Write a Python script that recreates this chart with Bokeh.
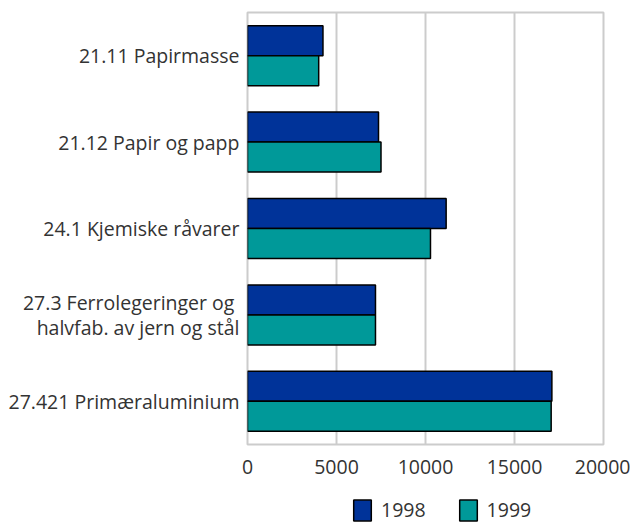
from bokeh.plotting import figure
from bokeh.layouts import column
from bokeh.models import FactorRange, Range1d, FixedTicker, Legend, LegendItem, ColumnDataSource
from bokeh.transform import dodge
from bokeh.embed import file_html
from bokeh.resources import INLINE

categories = [
    "21.11 Papirmasse",
    "21.12 Papir og papp",
    "24.1 Kjemiske råvarer",
    "27.3 Ferrolegeringer og \nhalvfab. av jern og stål",
    "27.421 Primæraluminium",
]
values_1998 = [4240, 7360, 11160, 7190, 17100]
values_1999 = [4000, 7500, 10280, 7190, 17060]
series_names = ["1998", "1999"]
x_ticks = [0, 5000, 10000, 15000, 20000]

FONT = "Open Sans"
TEXT_COLOR = "#333333"
BLUE = "#003399"
TEAL = "#009999"

src = ColumnDataSource(dict(cat=categories, v1998=values_1998, v1999=values_1999))

p = figure(
    width=630, height=483,
    y_range=FactorRange(factors=list(reversed(categories))),
    x_range=Range1d(0, 20000),
    output_backend="svg", toolbar_location=None,
    min_border_left=247, min_border_right=27, min_border_top=12, min_border_bottom=39,
)

bh = 0.347
p.hbar(y=dodge("cat", bh / 2, range=p.y_range), right="v1998", left=0, height=bh,
       source=src, fill_color=BLUE, line_color="black", line_width=1.5)
p.hbar(y=dodge("cat", -bh / 2, range=p.y_range), right="v1999", left=0, height=bh,
       source=src, fill_color=TEAL, line_color="black", line_width=1.5)

p.outline_line_color = "#cccccc"
p.outline_line_width = 2
p.ygrid.grid_line_color = None
p.xgrid.grid_line_color = "#cccccc"
p.xgrid.grid_line_width = 2
p.xaxis.ticker = FixedTicker(ticks=x_ticks)

for ax in (p.xaxis, p.yaxis):
    ax.axis_line_color = None
    ax.major_tick_line_color = None
    ax.minor_tick_line_color = None
    ax.major_label_text_font = FONT
    ax.major_label_text_font_size = "19.5px"
    ax.major_label_text_color = TEXT_COLOR

p.xaxis.major_label_standoff = 9
p.yaxis.major_label_standoff = 2
p.yaxis.major_label_text_line_height = 0.94

# legend strip (key renderers are hidden; only their legend swatches are drawn)
p2 = figure(
    width=630, height=40, output_backend="svg", toolbar_location=None,
    x_axis_type=None, y_axis_type=None,
    x_range=Range1d(0, 1), y_range=Range1d(0, 1),
    min_border_left=0, min_border_right=0, min_border_top=0, min_border_bottom=0,
)
p2.outline_line_color = None
p2.grid.grid_line_color = None
k1 = p2.hbar(y="v1998", left="v1998", right="v1998", height=0, source=src,
             fill_color=BLUE, line_color="black", line_width=1.5, visible=False)
k2 = p2.hbar(y="v1999", left="v1999", right="v1999", height=0, source=src,
             fill_color=TEAL, line_color="black", line_width=1.5, visible=False)

legend = Legend(
    items=[LegendItem(label=series_names[0], renderers=[k1]),
           LegendItem(label=series_names[1], renderers=[k2])],
    orientation="horizontal",
    location=(104, 0),
    glyph_width=22, glyph_height=26,
    label_standoff=8, spacing=31, padding=0, margin=0,
    border_line_alpha=0, background_fill_alpha=0,
    inactive_fill_alpha=0,
    label_text_font=FONT, label_text_font_size="19.5px", label_text_color=TEXT_COLOR,
)
p2.add_layout(legend, "center")

layout = column(p, p2, spacing=0)
open("out.html", "w").write(file_html(layout, INLINE))
